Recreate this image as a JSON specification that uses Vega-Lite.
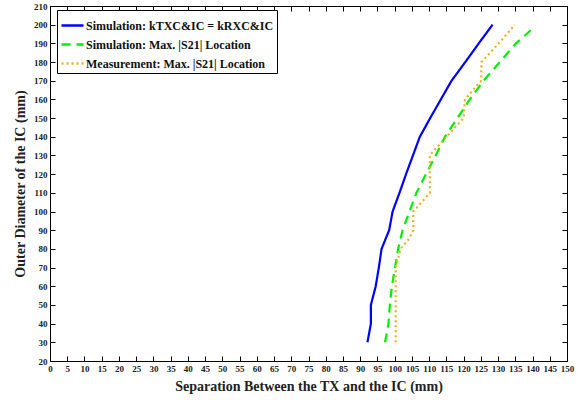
{
  "$schema": "https://vega.github.io/schema/vega-lite/v6.json",
  "width": 517,
  "height": 355,
  "autosize": {"type": "none"},
  "padding": {"left": 50, "top": 6, "right": 20, "bottom": 39},
  "config": {
    "font": "Liberation Serif",
    "view": {"stroke": "#000", "strokeWidth": 1},
    "axis": {
      "grid": false,
      "domainColor": "#000",
      "tickColor": "#000",
      "tickSize": -5,
      "labelFont": "Liberation Serif",
      "labelFontWeight": "bold",
      "labelFontSize": 9,
      "labelColor": "#222",
      "titleFont": "Liberation Serif",
      "titleFontWeight": "bold",
      "titleFontSize": 14,
      "titleColor": "#222"
    }
  },
  "data": {
    "values": [
      {"series": "Simulation: kTXC&IC = kRXC&IC", "dia": 30, "sep": 92.1},
      {"series": "Simulation: kTXC&IC = kRXC&IC", "dia": 40, "sep": 93.1},
      {"series": "Simulation: kTXC&IC = kRXC&IC", "dia": 50, "sep": 93.1},
      {"series": "Simulation: kTXC&IC = kRXC&IC", "dia": 60, "sep": 94.5},
      {"series": "Simulation: kTXC&IC = kRXC&IC", "dia": 70, "sep": 95.4},
      {"series": "Simulation: kTXC&IC = kRXC&IC", "dia": 80, "sep": 96.2},
      {"series": "Simulation: kTXC&IC = kRXC&IC", "dia": 90, "sep": 98.4},
      {"series": "Simulation: kTXC&IC = kRXC&IC", "dia": 100, "sep": 99.4},
      {"series": "Simulation: kTXC&IC = kRXC&IC", "dia": 110, "sep": 101.4},
      {"series": "Simulation: kTXC&IC = kRXC&IC", "dia": 120, "sep": 103.3},
      {"series": "Simulation: kTXC&IC = kRXC&IC", "dia": 130, "sep": 105.3},
      {"series": "Simulation: kTXC&IC = kRXC&IC", "dia": 140, "sep": 107.3},
      {"series": "Simulation: kTXC&IC = kRXC&IC", "dia": 150, "sep": 110.3},
      {"series": "Simulation: kTXC&IC = kRXC&IC", "dia": 160, "sep": 113.4},
      {"series": "Simulation: kTXC&IC = kRXC&IC", "dia": 170, "sep": 116.5},
      {"series": "Simulation: kTXC&IC = kRXC&IC", "dia": 180, "sep": 120.5},
      {"series": "Simulation: kTXC&IC = kRXC&IC", "dia": 190, "sep": 124.4},
      {"series": "Simulation: kTXC&IC = kRXC&IC", "dia": 200, "sep": 128.4},
      {"series": "Simulation: Max. |S21| Location", "dia": 30, "sep": 97.2},
      {"series": "Simulation: Max. |S21| Location", "dia": 40, "sep": 98.2},
      {"series": "Simulation: Max. |S21| Location", "dia": 50, "sep": 98.6},
      {"series": "Simulation: Max. |S21| Location", "dia": 60, "sep": 99.2},
      {"series": "Simulation: Max. |S21| Location", "dia": 70, "sep": 100.1},
      {"series": "Simulation: Max. |S21| Location", "dia": 80, "sep": 101.0},
      {"series": "Simulation: Max. |S21| Location", "dia": 90, "sep": 102.3},
      {"series": "Simulation: Max. |S21| Location", "dia": 100, "sep": 104.3},
      {"series": "Simulation: Max. |S21| Location", "dia": 110, "sep": 106.3},
      {"series": "Simulation: Max. |S21| Location", "dia": 120, "sep": 109.1},
      {"series": "Simulation: Max. |S21| Location", "dia": 130, "sep": 111.9},
      {"series": "Simulation: Max. |S21| Location", "dia": 140, "sep": 114.6},
      {"series": "Simulation: Max. |S21| Location", "dia": 150, "sep": 118.2},
      {"series": "Simulation: Max. |S21| Location", "dia": 160, "sep": 121.8},
      {"series": "Simulation: Max. |S21| Location", "dia": 170, "sep": 125.8},
      {"series": "Simulation: Max. |S21| Location", "dia": 180, "sep": 130.5},
      {"series": "Simulation: Max. |S21| Location", "dia": 190, "sep": 135.2},
      {"series": "Simulation: Max. |S21| Location", "dia": 197, "sep": 139.5},
      {"series": "Measurement: Max. |S21| Location", "dia": 30, "sep": 100.3},
      {"series": "Measurement: Max. |S21| Location", "dia": 70, "sep": 100.3},
      {"series": "Measurement: Max. |S21| Location", "dia": 80, "sep": 101.7},
      {"series": "Measurement: Max. |S21| Location", "dia": 85, "sep": 104.0},
      {"series": "Measurement: Max. |S21| Location", "dia": 90, "sep": 105.4},
      {"series": "Measurement: Max. |S21| Location", "dia": 100, "sep": 105.4},
      {"series": "Measurement: Max. |S21| Location", "dia": 110, "sep": 110.2},
      {"series": "Measurement: Max. |S21| Location", "dia": 130, "sep": 110.2},
      {"series": "Measurement: Max. |S21| Location", "dia": 140, "sep": 115.0},
      {"series": "Measurement: Max. |S21| Location", "dia": 150, "sep": 120.0},
      {"series": "Measurement: Max. |S21| Location", "dia": 160, "sep": 120.4},
      {"series": "Measurement: Max. |S21| Location", "dia": 170, "sep": 125.1},
      {"series": "Measurement: Max. |S21| Location", "dia": 180, "sep": 125.2},
      {"series": "Measurement: Max. |S21| Location", "dia": 190, "sep": 130.2},
      {"series": "Measurement: Max. |S21| Location", "dia": 200, "sep": 134.9}
    ]
  },
  "layer": [
    {
      "mark": {"type": "line", "strokeWidth": 2.2},
      "encoding": {
        "x": {
          "field": "sep", "type": "quantitative",
          "scale": {"domain": [0, 150], "nice": false},
          "axis": {"values": [0,5,10,15,20,25,30,35,40,45,50,55,60,65,70,75,80,85,90,95,100,105,110,115,120,125,130,135,140,145,150], "title": "Separation Between the TX and the IC (mm)", "labelPadding": 8, "titlePadding": 6, "labelFlush": false, "labelOverlap": false}
        },
        "y": {
          "field": "dia", "type": "quantitative",
          "scale": {"domain": [20, 210], "nice": false, "zero": false},
          "axis": {"values": [20,30,40,50,60,70,80,90,100,110,120,130,140,150,160,170,180,190,200,210], "title": "Outer Diameter of the IC (mm)", "labelPadding": 8, "titlePadding": 6, "labelFlush": false, "labelOverlap": false}
        },
        "order": {"field": "dia", "type": "quantitative"},
        "color": {
          "field": "series", "type": "nominal",
          "scale": {"domain": ["Simulation: kTXC&IC = kRXC&IC", "Simulation: Max. |S21| Location", "Measurement: Max. |S21| Location"], "range": ["#0000ff", "#00ee00", "#edb120"]},
          "legend": {
            "title": null, "orient": "none", "legendX": 7, "legendY": 4,
            "strokeColor": "#000", "fillColor": "#fff", "padding": 3,
            "labelFont": "Liberation Serif", "labelFontWeight": "bold", "labelFontSize": 12, "labelColor": "#111",
            "symbolType": "stroke", "symbolSize": 484, "symbolStrokeWidth": 2.5, "rowPadding": -5, "labelOffset": 1, "labelLimit": 300
          }
        },
        "strokeDash": {
          "field": "series", "type": "nominal",
          "scale": {"domain": ["Simulation: kTXC&IC = kRXC&IC", "Simulation: Max. |S21| Location", "Measurement: Max. |S21| Location"], "range": [[1, 0], [9, 6], [2, 3]]},
          "legend": null
        }
      }
    },
    {
      "mark": {"type": "line", "opacity": 0},
      "encoding": {
        "x": {"field": "sep", "type": "quantitative", "axis": {"orient": "top", "values": [0,5,10,15,20,25,30,35,40,45,50,55,60,65,70,75,80,85,90,95,100,105,110,115,120,125,130,135,140,145,150], "labels": false, "title": null}},
        "y": {"field": "dia", "type": "quantitative", "axis": {"orient": "right", "values": [20,30,40,50,60,70,80,90,100,110,120,130,140,150,160,170,180,190,200,210], "labels": false, "title": null}},
        "detail": {"field": "series"}
      }
    }
  ],
  "resolve": {"axis": {"x": "independent", "y": "independent"}}
}
